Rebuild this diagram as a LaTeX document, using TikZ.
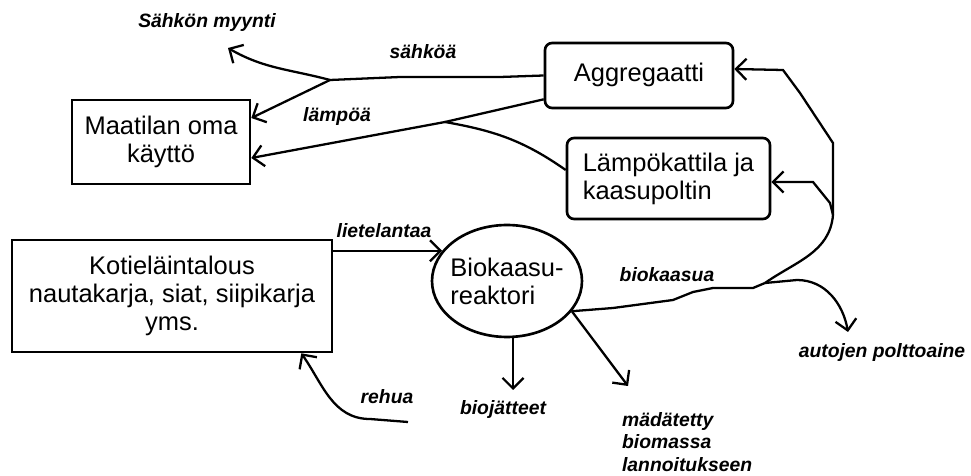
\documentclass[tikz,border=0pt]{standalone}
\usepackage{fontspec}
\setmainfont{Liberation Sans}
\usetikzlibrary{arrows.meta, shapes.geometric}

\begin{document}
\begin{tikzpicture}[
    x=0.02cm, y=0.02cm,
    >={Straight Barb[length=6pt, width=12pt]},
    pipe/.style={line width=1.3pt},
    flow/.style={->, line width=1.3pt},
    box_style/.style={draw, line width=1.5pt, inner sep=0pt, align=center, font=\fontsize{14.5}{16}\selectfont},
    round_box/.style={box_style, rounded corners=4pt},
    flow_label/.style={font=\fontsize{11}{12.8}\selectfont\bfseries\itshape, inner sep=1pt}
]
    \useasboundingbox (0,0) rectangle (971,-476);

    % Define the units
    \node[box_style, minimum width=3.56cm, minimum height=1.68cm] (maatila) at (161,-142) {Maatilan oma\\käyttö};
    \node[round_box, minimum width=3.76cm, minimum height=1.30cm, text depth=0.12cm] (aggregaatti) at (639,-75.5) {Aggregaatti};
    \node[round_box, minimum width=4.06cm, minimum height=1.62cm, align=left] (kattila) at (668.5,-178.5) {Lämpökattila ja\\kaasupoltin};
    \node[box_style, minimum width=6.4cm, minimum height=2.24cm] (kotielain) at (172,-296) {Kotieläintalous\\nautakarja, siat, siipikarja\\yms.};
    \node[box_style, ellipse, minimum width=3cm, minimum height=2.24cm, inner xsep=-3pt, align=left] (reaktori) at (507,-281) {Biokaasu-\\reaktori};

    % Define junctions and free ends
    \coordinate (sj) at (330,-80);
    \coordinate (lj) at (445,-122);
    \coordinate (bj) at (765,-283);
    \coordinate (rj) at (833,-215);
    \coordinate (myyntitip) at (228,-48);
    \coordinate (rehu) at (408,-422);
    \coordinate (biotip) at (513,-390);
    \coordinate (madtip) at (628,-386);
    \coordinate (autotip) at (848,-332);

    % Define the labels
    \node[flow_label] (myynti) at (207,-23) {Sähkön myynti};
    \node[flow_label] (sahko_l) at (423,-52) {sähköä};
    \node[flow_label] (lampo_l) at (337,-117) {lämpöä};
    \node[flow_label] (liete_l) at (384,-231) {lietelantaa};
    \node[flow_label] (rehu_l) at (387,-397) {rehua};
    \node[flow_label] (bio_l) at (503,-410) {biojätteet};
    \node[flow_label] (kaasu_l) at (667,-275) {biokaasua};
    \node[flow_label] (auto_l) at (882,-353) {autojen polttoaine};
    \node[flow_label, anchor=west, align=left] (mad_l) at (620,-442) {mädätetty\\biomassa\\lannoitukseen};

    % Electricity from the aggregate
    \draw[pipe] (aggregaatti.west) -- (500,-77) -- (400,-77) -- (sj);
    \draw[flow] (sj) to[out=165, in=-30] (myyntitip);
    \draw[flow] (sj) -- ([yshift=0.48cm]maatila.east);

    % Heat to the farm
    \draw[pipe] ([yshift=0.2cm]aggregaatti.south west) -- (lj);
    \draw[pipe] ([yshift=0.17cm]kattila.west) to[out=145, in=-10] (lj);
    \draw[flow] (lj) -- ([yshift=-0.32cm]maatila.east);

    % Biogas distribution
    \draw[pipe] (reaktori.-25) -- (613,-308) -- (673,-300) -- (693,-292) -- (713,-288) -- (753,-288) -- (bj);
    \draw[pipe] (bj) to[out=35, in=-95] (rj);
    \draw[flow] (rj) -- (833,-143) -- (800,-93) -- (783,-70) -- ([yshift=0.13cm]aggregaatti.east);
    \draw[flow] (rj) -- (830,-203) -- (813,-182) -- ([yshift=-0.07cm]kattila.east);
    \draw[flow] (bj) -- (797,-280) to[out=0, in=100] (autotip);

    % Reactor inputs and outputs
    \draw[flow] (kotielain.east |- reaktori.155) -- (reaktori.155);
    \draw[flow] (rehu) -- (370,-419) to[out=180, in=-55] ([xshift=-0.64cm]kotielain.south east);
    \draw[flow] (reaktori.south -| biotip) -- (biotip);
    \draw[flow] (reaktori.-25) -- (madtip);

\end{tikzpicture}
\end{document}
